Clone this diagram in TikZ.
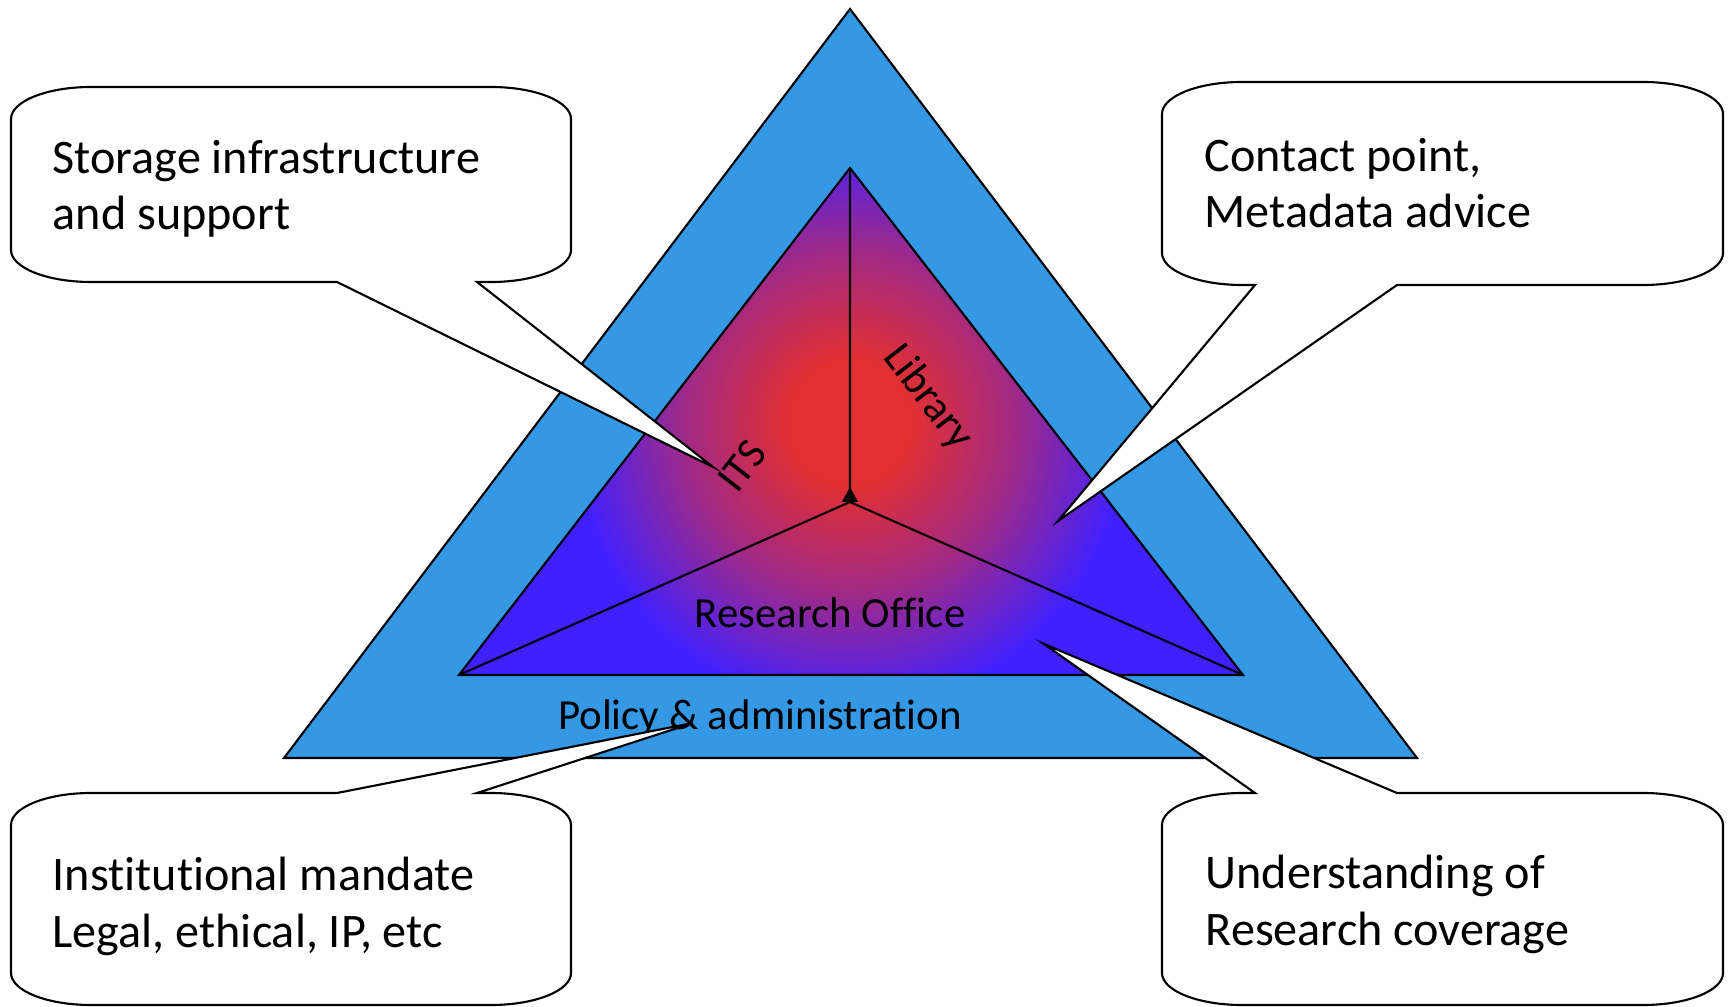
\documentclass[tikz,border=0pt]{standalone}
\usepackage{fontspec}
\setmainfont{Carlito}[Ligatures=NoCommon]
\definecolor{skyblue}{RGB}{52,152,228}
\definecolor{corered}{RGB}{228,48,48}
\definecolor{coreblue}{RGB}{64,32,255}
\pgfdeclareradialshading{core}{\pgfpoint{0bp}{0bp}}{color(0bp)=(corered); color(2.5bp)=(corered); color(7bp)=(corered!60!coreblue); color(12bp)=(coreblue); color(25bp)=(coreblue); color(50bp)=(coreblue)}
% speech bubble, tail on the lower edge: left, bottom, right, top, tail base 1, tail base 2, tip
\newcommand{\bubblebelow}[7]{%
  \draw[callout] (#1+80,#2) -- (#5,#2) -- (#7) -- (#6,#2) -- (#3-80,#2)
    arc[start angle=270,end angle=360,x radius=80,y radius=32] -- (#3,#4-32)
    arc[start angle=0,end angle=90,x radius=80,y radius=32] -- (#1+80,#4)
    arc[start angle=90,end angle=180,x radius=80,y radius=32] -- (#1,#2+32)
    arc[start angle=180,end angle=270,x radius=80,y radius=32] -- cycle;}
% speech bubble, tail on the upper edge
\newcommand{\bubbleabove}[7]{%
  \draw[callout] (#1+80,#2) -- (#3-80,#2)
    arc[start angle=270,end angle=360,x radius=80,y radius=32] -- (#3,#4-32)
    arc[start angle=0,end angle=90,x radius=80,y radius=32] -- (#6,#4) -- (#7) -- (#5,#4) -- (#1+80,#4)
    arc[start angle=90,end angle=180,x radius=80,y radius=32] -- (#1,#2+32)
    arc[start angle=180,end angle=270,x radius=80,y radius=32] -- cycle;}
\tikzset{
  callout/.style={draw=black, fill=white, line width=0.6pt},
  bubbletext/.style={font=\fontsize{13.7}{16.2}\selectfont, align=left, anchor=base west, inner sep=0pt},
  corelabel/.style={font=\fontsize{12.2}{14}\selectfont, inner sep=0pt}
}
\begin{document}
\begin{tikzpicture}[x=0.01cm, y=0.01cm]

    \useasboundingbox (0,0) rectangle (1731,1006);

    % outer triangle
    \draw[fill=skyblue, line width=0.6pt] (284,248) -- (850,997) -- (1417,248) -- cycle;

    % inner triangle
    \coordinate (top) at (850,838);
    \coordinate (left) at (459,331);
    \coordinate (right) at (1243,331);
    \coordinate (mid) at (850,504);
    \begin{scope}
      \clip (left) -- (top) -- (right) -- cycle;
      \fill[shading=core] (850,584) ellipse [x radius=580, y radius=600];
    \end{scope}
    \draw[line width=0.6pt] (left) -- (top) -- (right) -- cycle;
    \draw[line width=0.6pt] (mid) -- (top) (mid) -- (left) (mid) -- (right);
    \fill (mid) ++(0,15) -- ++(-8,-15) -- ++(16,0) -- cycle;

    \node[corelabel, rotate=52.3] (its) at (742,540) {ITS};
    \node[corelabel, rotate=-52.3] (library) at (928,608) {Library};
    \node[corelabel, anchor=base] (office) at (830,378) {Research Office};
    \node[corelabel, anchor=base] (policy) at (760,276) {Policy \& administration};

    % speech bubbles
    \coordinate (itstip) at (713,539);
    \coordinate (librarytip) at (1058,485);
    \coordinate (policytip) at (693,283);
    \coordinate (officetip) at (1044,362);
    \bubblebelow{11}{724}{571}{919}{337}{477}{itstip}
    \bubblebelow{1162}{721}{1723}{924}{1255}{1397}{librarytip}
    \bubbleabove{11}{1}{571}{213}{337}{477}{policytip}
    \bubbleabove{1162}{1}{1723}{213}{1255}{1397}{officetip}

    \node[bubbletext] (storage) at (52,776) {Storage infrastructure\\and support};
    \node[bubbletext] (contact) at (1204,778) {Contact point,\\Metadata advice};
    \node[bubbletext] (mandate) at (52,59) {Institutional mandate\\Legal, ethical, IP, etc};
    \node[bubbletext] (coverage) at (1205,61) {Understanding of\\Research coverage};

\end{tikzpicture}
\end{document}
